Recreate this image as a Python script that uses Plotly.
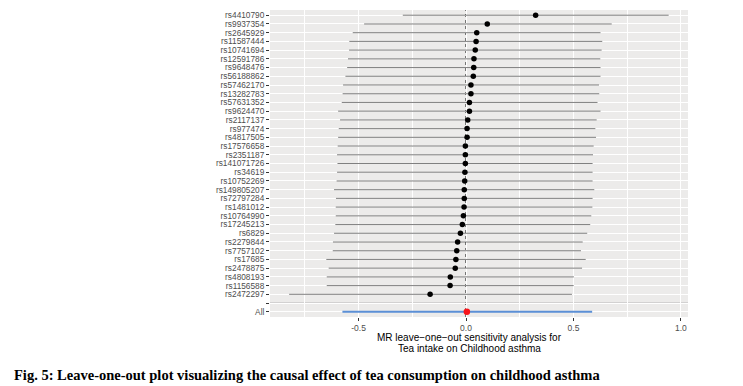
import plotly.graph_objects as go

snps = ["rs4410790", "rs9937354", "rs2645929", "rs11587444", "rs10741694", "rs12591786",
        "rs9648476", "rs56188862", "rs57462170", "rs13282783", "rs57631352", "rs9624470",
        "rs2117137", "rs977474", "rs4817505", "rs17576658", "rs2351187", "rs141071726",
        "rs34619", "rs10752269", "rs149805207", "rs72797284", "rs1481012", "rs10764990",
        "rs17245213", "rs6829", "rs2279844", "rs7757102", "rs17685", "rs2478875",
        "rs4808193", "rs1156588", "rs2472297"]
b = [0.324, 0.099, 0.050, 0.047, 0.043, 0.037, 0.036, 0.034, 0.023, 0.023, 0.016, 0.016,
     0.008, 0.005, 0.005, -0.003, -0.003, -0.003, -0.005, -0.006, -0.008, -0.008, -0.009,
     -0.012, -0.017, -0.026, -0.039, -0.043, -0.047, -0.050, -0.073, -0.074, -0.167]
lo = [-0.294, -0.474, -0.527, -0.543, -0.544, -0.549, -0.553, -0.561, -0.572, -0.574, -0.578,
      -0.595, -0.586, -0.592, -0.595, -0.597, -0.600, -0.598, -0.600, -0.602, -0.614, -0.605,
      -0.606, -0.606, -0.608, -0.614, -0.619, -0.620, -0.650, -0.639, -0.648, -0.648, -0.823]
hi = [0.943, 0.678, 0.626, 0.634, 0.631, 0.625, 0.626, 0.626, 0.619, 0.620, 0.612, 0.626,
      0.608, 0.602, 0.605, 0.594, 0.591, 0.589, 0.589, 0.589, 0.597, 0.589, 0.588, 0.583,
      0.578, 0.564, 0.543, 0.535, 0.557, 0.540, 0.502, 0.501, 0.493]
all_label = "All"
all_b = 0.004
all_lo = -0.575
all_hi = 0.587

x_ticks = [-0.5, 0.0, 0.5, 1.0]
x_ticklabels = ["-0.5", "0.0", "0.5", "1.0"]
x_minor = [-0.75, -0.25, 0.25, 0.75]

title_lines = ["MR leave−one−out sensitivity analysis for", "Tea intake on Childhood asthma"]
caption = "Fig. 5: Leave-one-out plot visualizing the causal effect of tea consumption on childhood asthma"

labels = snps + ["", all_label]
ypos = list(range(1, len(labels) + 1))
snp_y = ypos[:len(snps)]
blank_y = ypos[len(snps)]
all_y = ypos[-1]

fig = go.Figure()

fig.add_trace(go.Scatter(
    x=b, y=snp_y, mode="markers",
    marker=dict(color="black", size=5.5),
    error_x=dict(type="data", symmetric=False,
                 array=[h - v for h, v in zip(hi, b)],
                 arrayminus=[v - l for v, l in zip(b, lo)],
                 color="rgba(50,50,50,0.62)", thickness=1, width=0),
    hoverinfo="skip", showlegend=False))

fig.add_trace(go.Scatter(
    x=[all_b], y=[all_y], mode="markers",
    marker=dict(color="#f8141a", size=6.5),
    error_x=dict(type="data", symmetric=False,
                 array=[all_hi - all_b], arrayminus=[all_b - all_lo],
                 color="#5b8fd6", thickness=2.2, width=0),
    hoverinfo="skip", showlegend=False))

fig.add_shape(type="line", xref="x", yref="paper", x0=0, x1=0, y0=0, y1=1,
              line=dict(color="black", width=1, dash="dot"), layer="between")
fig.add_shape(type="line", xref="paper", yref="y", x0=0, x1=1, y0=blank_y, y1=blank_y,
              line=dict(color="#b8b8b8", width=1.2), layer="between")

fig.update_layout(
    width=735, height=378,
    margin=dict(l=262, r=55, t=2, b=69),
    paper_bgcolor="white", plot_bgcolor="#ecebea",
    font=dict(family="Liberation Sans, Arial, sans-serif", size=8, color="#4d4d4d"),
    showlegend=False,
    xaxis=dict(range=[-0.912, 1.033], tickvals=x_ticks, ticktext=x_ticklabels,
               showgrid=True, gridcolor="white", gridwidth=1.1, zeroline=False,
               ticks="outside", ticklen=3, tickcolor="#333333", tickwidth=1,
               tickfont=dict(size=8.5, color="#4d4d4d"), showline=False,
               minor=dict(tickvals=x_minor, showgrid=True, gridcolor="white",
                          gridwidth=0.5, ticks="")),
    yaxis=dict(range=[all_y + 0.6, 0.4], tickvals=ypos, ticktext=labels,
               showgrid=True, gridcolor="white", gridwidth=1.1, zeroline=False,
               ticks="outside", ticklen=3, tickcolor="#333333", tickwidth=1,
               tickfont=dict(size=8.3, color="#4d4d4d"), showline=False),
)

for txt, yp in zip(title_lines, [-0.0668, -0.101]):
    fig.add_annotation(
        text=txt, xref="paper", yref="paper", x=0.477, y=yp,
        xanchor="center", yanchor="middle", showarrow=False,
        font=dict(family="Liberation Sans, Arial, sans-serif", size=10, color="black"))

fig.add_annotation(
    text="<b>" + caption + "</b>",
    xref="paper", yref="paper", x=-0.617, y=-0.189, xanchor="left", yanchor="middle",
    showarrow=False, align="left",
    font=dict(family="Liberation Serif, Times New Roman, serif", size=14.5, color="black"))

fig.write_html("out.html")
